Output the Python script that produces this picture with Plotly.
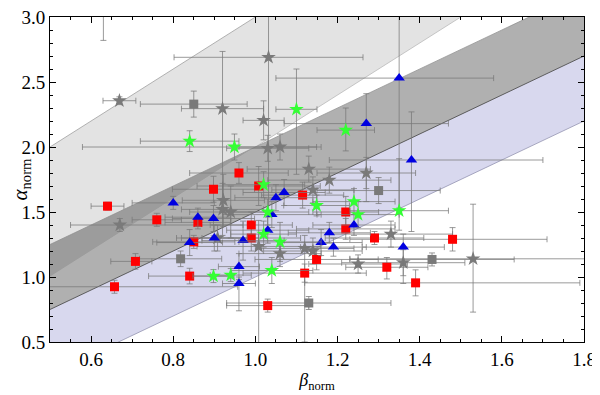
import numpy as np
import plotly.graph_objects as go

# ---------------- data ----------------
red_beta = [0.64, 0.76, 0.86, 0.898, 0.96, 1.008, 0.99, 0.99, 0.85, 0.708, 0.84, 0.657, 1.115, 1.22, 1.22, 1.29, 1.48, 1.149, 1.32, 1.12, 1.39, 1.03]
red_alpha = [1.545, 1.44, 1.42, 1.675, 1.80, 1.70, 1.40, 1.30, 1.27, 1.12, 1.007, 0.925, 1.63, 1.50, 1.37, 1.30, 1.29, 1.135, 1.075, 1.03, 0.955, 0.78]
red_bm = [0.04, 0.06, 0.08, 0.10, 0.12, 0.15, 0.10, 0.12, 0.10, 0.06, 0.10, 0.16, 0.10, 0.08, 0.12, 0.12, 0.25, 0.15, 0.10, 0.15, 0.27, 0.10]
red_bp = [0.04, 0.06, 0.08, 0.10, 0.12, 0.15, 0.10, 0.12, 0.10, 0.04, 0.10, 0.30, 0.10, 0.08, 0.12, 0.12, 0.23, 0.15, 0.10, 0.15, 0.40, 0.10]
red_am = [0.03, 0.05, 0.05, 0.10, 0.08, 0.15, 0.10, 0.10, 0.05, 0.06, 0.06, 0.05, 0.10, 0.12, 0.08, 0.05, 0.09, 0.08, 0.09, 0.07, 0.10, 0.05]
red_ap = [0.03, 0.05, 0.05, 0.10, 0.08, 0.15, 0.10, 0.10, 0.05, 0.06, 0.06, 0.05, 0.10, 0.12, 0.08, 0.05, 0.09, 0.08, 0.075, 0.07, 0.10, 0.05]

blue_beta = [0.80, 0.86, 0.898, 1.07, 1.05, 1.04, 1.03, 0.90, 0.97, 0.84, 0.96, 0.96, 1.35, 1.27, 1.38, 1.24, 1.18, 1.16, 1.19, 1.36]
blue_alpha = [1.57, 1.46, 1.45, 1.65, 1.61, 1.48, 1.36, 1.30, 1.28, 1.265, 1.08, 0.95, 2.53, 2.18, 1.90, 1.40, 1.34, 1.265, 1.23, 1.23]
blue_bm = [0.10, 0.08, 0.10, 0.10, 0.10, 0.12, 0.10, 0.08, 0.10, 0.08, 0.05, 0.04, 0.30, 0.20, 0.20, 0.10, 0.10, 0.10, 0.08, 0.10]
blue_bp = [0.10, 0.08, 0.10, 0.10, 0.10, 0.12, 0.10, 0.08, 0.10, 0.08, 0.05, 0.04, 0.23, 0.20, 0.32, 0.10, 0.10, 0.10, 0.08, 0.10]
blue_am = [0.05, 0.07, 0.10, 0.10, 0.10, 0.10, 0.10, 0.10, 0.15, 0.10, 0.10, 0.21, 1.00, 0.60, 0.55, 0.08, 0.08, 0.10, 0.07, 0.28]
blue_ap = [0.05, 0.07, 0.10, 0.10, 0.10, 0.10, 0.10, 0.10, 0.15, 0.10, 0.10, 0.05, 0.60, 0.23, 0.37, 0.08, 0.08, 0.10, 0.07, 0.10]

green_beta = [0.84, 0.949, 1.10, 1.22, 1.02, 1.03, 1.02, 1.06, 1.04, 0.898, 0.94, 1.149, 1.24, 1.25, 1.35]
green_alpha = [2.045, 2.0, 2.29, 2.13, 1.71, 1.50, 1.33, 1.27, 1.05, 1.007, 1.015, 1.55, 1.58, 1.48, 1.51]
green_bm = [0.12, 0.37, 0.05, 0.07, 0.10, 0.10, 0.08, 0.10, 0.10, 0.05, 0.05, 0.08, 0.10, 0.10, 0.12]
green_bp = [0.12, 0.20, 0.05, 0.07, 0.10, 0.10, 0.08, 0.10, 0.10, 0.05, 0.05, 0.08, 0.10, 0.10, 0.12]
green_am = [0.08, 0.10, 0.50, 0.16, 0.10, 0.10, 0.10, 0.15, 0.10, 0.05, 0.05, 0.08, 0.10, 0.10, 0.15]
green_ap = [0.08, 0.10, 0.31, 0.17, 0.10, 0.10, 0.10, 0.15, 0.10, 0.05, 0.05, 0.08, 0.10, 0.10, 0.40]

gstar_beta = [0.63, 0.669, 0.92, 1.032, 1.02, 1.03, 1.06, 1.13, 1.27, 1.18, 1.14, 0.922, 0.92, 0.94, 0.67, 0.908, 1.008, 1.06, 1.12, 1.14, 1.33, 1.36, 1.25, 1.53]
gstar_alpha = [3.3, 2.356, 2.295, 2.69, 2.205, 1.99, 2.0, 1.83, 1.80, 1.745, 1.67, 1.59, 1.52, 1.50, 1.40, 1.30, 1.235, 1.18, 1.22, 1.20, 1.33, 1.11, 1.10, 1.14]
gstar_bm = [0.03, 0.04, 0.10, 0.23, 0.05, 0.10, 0.10, 0.15, 0.12, 0.15, 0.10, 0.10, 0.10, 0.10, 0.12, 0.10, 0.15, 0.10, 0.12, 0.12, 0.15, 0.15, 0.12, 0.30]
gstar_bp = [0.03, 0.04, 0.10, 0.23, 0.05, 0.10, 0.10, 0.15, 0.12, 0.15, 0.10, 0.10, 0.10, 0.10, 0.30, 0.10, 0.15, 0.10, 0.12, 0.12, 0.15, 0.15, 0.12, 0.30]
gstar_am = [0.48, 0.03, 0.80, 1.20, 0.15, 0.10, 0.10, 0.10, 0.12, 0.10, 0.10, 0.20, 0.20, 0.20, 0.05, 0.10, 0.75, 0.10, 0.72, 0.10, 0.10, 0.10, 0.07, 0.41]
gstar_ap = [0.30, 0.03, 0.44, 0.50, 0.15, 0.10, 0.10, 0.10, 0.12, 0.10, 0.10, 0.20, 0.20, 0.20, 0.05, 0.10, 0.20, 0.10, 0.10, 0.10, 0.10, 0.10, 0.07, 0.42]

gsq_beta = [0.85, 0.818, 1.30, 1.43, 1.13]
gsq_alpha = [2.33, 1.14, 1.665, 1.135, 0.80]
gsq_bm = [0.13, 0.10, 0.15, 0.20, 0.20]
gsq_bp = [0.13, 0.10, 0.15, 0.20, 0.20]
gsq_am = [0.10, 0.06, 0.10, 0.05, 0.05]
gsq_ap = [0.10, 0.06, 0.10, 0.05, 0.05]

x_ticks = [0.6, 0.8, 1.0, 1.2, 1.4, 1.6, 1.8]
y_ticks = [0.5, 1.0, 1.5, 2.0, 2.5, 3.0]

# ---------------- closure-relation bands ----------------
b = np.linspace(0.2, 2.2, 50)
def band(lo, hi, fill, name):
    xs = np.concatenate([b, b[::-1]])
    ys = np.concatenate([hi(b), lo(b)[::-1]])
    return go.Scatter(x=xs, y=ys, fill="toself", fillcolor=fill, mode="lines",
                      line=dict(width=0), hoverinfo="skip", showlegend=False, name=name)

fig = go.Figure()
fig.add_trace(band(lambda x: 2 * x, lambda x: 2 * x + 1, "rgba(0,0,0,0.11)", "post-break"))
fig.add_trace(band(lambda x: 1.5 * x, lambda x: 1.5 * x + 0.5, "rgba(0,0,0,0.31)", "wind"))
fig.add_trace(band(lambda x: 1.5 * x - 0.5, lambda x: 1.5 * x, "rgba(60,60,170,0.2)", "ism"))

def edge(f, color, width=1, dash=None):
    return go.Scatter(x=b, y=f(b), mode="lines", line=dict(color=color, width=width, dash=dash),
                      hoverinfo="skip", showlegend=False)

fig.add_trace(edge(lambda x: 2 * x + 1, "rgba(150,150,150,0.9)", 0.8))
fig.add_trace(edge(lambda x: 2 * x, "rgba(180,180,180,0.9)", 0.8))
fig.add_trace(edge(lambda x: 1.5 * x + 0.5, "rgba(140,140,140,0.9)", 0.8))
fig.add_trace(edge(lambda x: 1.5 * x, "rgba(80,80,80,0.9)", 1))
fig.add_trace(edge(lambda x: 1.5 * x - 0.5, "rgba(140,140,170,0.9)", 0.8))

# ---------------- data points ----------------
ERR = "rgba(120,120,120,0.75)"
def pts(bx, ay, bm, bp, am, ap, symbol, color, size, name):
    return go.Scatter(
        x=bx, y=ay, mode="markers", name=name, showlegend=False,
        marker=dict(symbol=symbol, color=color, size=size, line=dict(width=0)),
        error_x=dict(type="data", array=bp, arrayminus=bm, symmetric=False, color=ERR, thickness=1, width=3),
        error_y=dict(type="data", array=ap, arrayminus=am, symmetric=False, color=ERR, thickness=1, width=3),
    )

fig.add_trace(pts(gstar_beta, gstar_alpha, gstar_bm, gstar_bp, gstar_am, gstar_ap, "star", "#7a7a7a", 11, "gray stars"))
fig.add_trace(pts(gsq_beta, gsq_alpha, gsq_bm, gsq_bp, gsq_am, gsq_ap, "square", "#7a7a7a", 9, "gray squares"))
fig.add_trace(pts(red_beta, red_alpha, red_bm, red_bp, red_am, red_ap, "square", "#ff0000", 9, "red"))
fig.add_trace(pts(blue_beta, blue_alpha, blue_bm, blue_bp, blue_am, blue_ap, "triangle-up", "#0000e0", 10, "blue"))
fig.add_trace(pts(green_beta, green_alpha, green_bm, green_bp, green_am, green_ap, "star", "#33ff33", 11, "green"))

FONT = "Liberation Serif"
axis_common = dict(
    showgrid=False, zeroline=False, showline=True, linecolor="black", linewidth=1,
    mirror="allticks", ticks="inside", ticklen=6, tickcolor="black", tickwidth=1,
    tickfont=dict(family=FONT, size=19, color="black"), tickformat=".1f",
    automargin=False, ticklabeloverflow="allow",
)
fig.update_xaxes(range=[0.5, 1.8], tickvals=x_ticks, **axis_common,
                 minor=dict(ticks="inside", ticklen=3, dtick=0.05, tick0=0.5, tickcolor="black", showgrid=False),
                 title=dict(text="<i>β</i><sub>norm</sub>", font=dict(family=FONT, size=18, color="black"), standoff=0))
fig.update_yaxes(range=[0.5, 3.0], tickvals=y_ticks, **axis_common,
                 minor=dict(ticks="inside", ticklen=3, dtick=0.1, tick0=0.5, tickcolor="black", showgrid=False),
                 title=dict(text="<i>α</i><sub>norm</sub>", font=dict(family=FONT, size=21, color="black"), standoff=4))

# the page body adds an 8px offset; the figure is sized so the plot frame lands
# at the same place as in the reference inside the 600x395 window
fig.update_layout(
    width=592, height=387,
    margin=dict(l=42, r=16, t=9, b=53),
    plot_bgcolor="white", paper_bgcolor="white",
    showlegend=False,
)

fig.write_html("out.html")
